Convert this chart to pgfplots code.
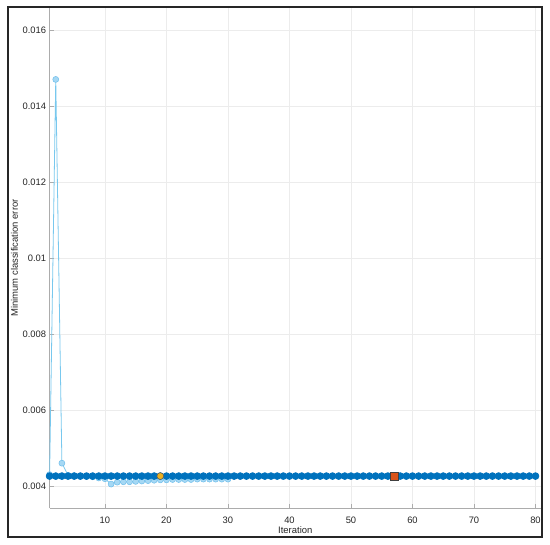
\documentclass[border=0pt]{standalone}
\usepackage{fontspec}
\setmainfont{Liberation Sans}
\usepackage{pgfplots}
\pgfplotsset{compat=1.18}
\definecolor{darkb}{RGB}{0,114,189}
\definecolor{lightline}{RGB}{120,200,238}
\definecolor{lightfill}{RGB}{165,216,244}
\definecolor{lightedge}{RGB}{110,190,235}
\definecolor{orng}{RGB}{237,177,32}
\definecolor{redo}{RGB}{217,83,25}
\definecolor{txt}{RGB}{38,38,38}
\begin{document}
\begin{tikzpicture}
\path[use as bounding box] (0,0) rectangle (550bp,545bp);
\fill[white] (0,0) rectangle (550bp,545bp);
\begin{axis}[
  at={(49.6bp,37bp)}, anchor=south west,
  width=491.4bp, height=500bp, scale only axis,
  xmin=1, xmax=80.9, ymin=0.00342, ymax=0.01658,
  axis x line*=bottom, axis y line*=left,
  axis line style={draw=gray!65, line width=0.8bp, -},
  xtick={10,20,...,80},
  ytick={0.004,0.006,0.008,0.01,0.012,0.014,0.016},
  yticklabels={0.004,0.006,0.008,0.01,0.012,0.014,0.016},
  grid=major, grid style={draw=gray!15, line width=0.6bp},
  tick align=inside, major tick length=4bp,
  tick style={draw=gray!65, line width=0.6bp},
  tick label style={font=\fontsize{9.4}{11}\selectfont, text=txt},
  xticklabel style={yshift=-5bp},
  /pgf/number format/assume math mode=true,
  xlabel={Iteration}, ylabel={Minimum classification error},
  label style={font=\fontsize{9.5}{11}\selectfont, text=txt},
  xlabel style={at={(axis description cs:0.5,0)}, anchor=north, yshift=-15bp},
  ylabel style={at={(axis description cs:0,0.5)}, anchor=south, yshift=28bp},
  clip=false,
]
\addplot[color=lightline, line width=0.8bp, mark=*, mark size=3bp,
  mark options={fill=lightfill, draw=lightedge, line width=0.5bp}] coordinates {
(1,0.00430) (2,0.0147) (3,0.0046) (4,0.00428) (5,0.00427) (6,0.00426) (7,0.00425)
(8,0.00424) (9,0.00421) (10,0.00419) (11,0.00405) (12,0.00410) (13,0.00411)
(14,0.00411) (15,0.00412) (16,0.00413) (17,0.00414) (18,0.00415) (19,0.00416)
(20,0.00416) (21,0.00417) (22,0.00417) (23,0.00417) (24,0.00417) (25,0.00418)
(26,0.00418) (27,0.00418) (28,0.00418) (29,0.00418) (30,0.00418)
};
\addplot[color=darkb, line width=0.8bp, mark=*, mark size=3.4bp,
  mark options={fill=darkb, draw=darkb}] coordinates {
(1,0.00426) (2,0.00426) (3,0.00426) (4,0.00426) (5,0.00426) (6,0.00426) (7,0.00426) (8,0.00426)
(9,0.00426) (10,0.00426) (11,0.00426) (12,0.00426) (13,0.00426) (14,0.00426) (15,0.00426) (16,0.00426)
(17,0.00426) (18,0.00426) (19,0.00426) (20,0.00426) (21,0.00426) (22,0.00426) (23,0.00426) (24,0.00426)
(25,0.00426) (26,0.00426) (27,0.00426) (28,0.00426) (29,0.00426) (30,0.00426) (31,0.00426) (32,0.00426)
(33,0.00426) (34,0.00426) (35,0.00426) (36,0.00426) (37,0.00426) (38,0.00426) (39,0.00426) (40,0.00426)
(41,0.00426) (42,0.00426) (43,0.00426) (44,0.00426) (45,0.00426) (46,0.00426) (47,0.00426) (48,0.00426)
(49,0.00426) (50,0.00426) (51,0.00426) (52,0.00426) (53,0.00426) (54,0.00426) (55,0.00426) (56,0.00426)
(57,0.00426) (58,0.00426) (59,0.00426) (60,0.00426) (61,0.00426) (62,0.00426) (63,0.00426) (64,0.00426)
(65,0.00426) (66,0.00426) (67,0.00426) (68,0.00426) (69,0.00426) (70,0.00426) (71,0.00426) (72,0.00426)
(73,0.00426) (74,0.00426) (75,0.00426) (76,0.00426) (77,0.00426) (78,0.00426) (79,0.00426) (80,0.00426)
};
\addplot[only marks, mark=*, mark size=3.4bp,
  mark options={fill=orng, draw=black!65, line width=0.5bp}] coordinates {(19,0.00426)};
\addplot[only marks, mark=square*, mark size=3.8bp,
  mark options={fill=redo, draw=black!75, line width=0.6bp}] coordinates {(57,0.00426)};
\end{axis}
\draw[line width=1.5bp, black!85] (8bp,8bp) rectangle (542bp,538bp);
\end{tikzpicture}
\end{document}
